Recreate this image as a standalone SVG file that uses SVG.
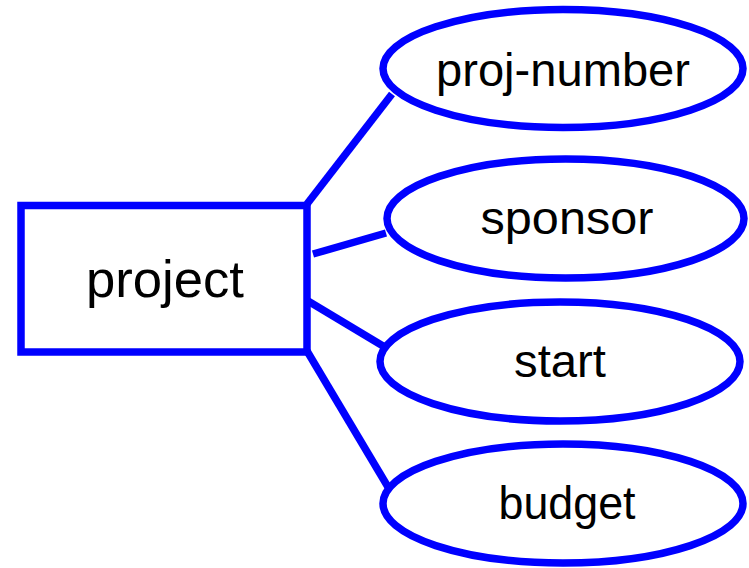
<svg xmlns="http://www.w3.org/2000/svg" width="749" height="568" viewBox="0 0 749 568">
  <style>
    .shape { fill: #ffffff; stroke: #0000ff; stroke-width: 7.5; }
    .link { stroke: #0000ff; stroke-width: 7.5; fill: none; }
    .label { font-family: "Liberation Sans", Arial, sans-serif; fill: #000000; text-anchor: middle; }
  </style>
  <rect width="749" height="568" fill="#ffffff"/>

  <!-- connectors from the entity to its attributes -->
  <g id="connectors">
    <line class="link" x1="307" y1="204" x2="392" y2="94"/>
    <line class="link" x1="313" y1="254" x2="386" y2="233"/>
    <line class="link" x1="308" y1="301" x2="388" y2="349"/>
    <line class="link" x1="307" y1="351" x2="388" y2="487"/>
  </g>

  <!-- entity -->
  <g id="project">
    <rect class="shape" x="21" y="205.5" width="286" height="146.5"/>
    <text class="label" x="165" y="297" font-size="52" textLength="158" lengthAdjust="spacingAndGlyphs">project</text>
  </g>

  <!-- attributes -->
  <g id="proj-number">
    <ellipse class="shape" cx="563" cy="68.5" rx="180" ry="59"/>
    <text class="label" x="563" y="86" font-size="47" textLength="254" lengthAdjust="spacingAndGlyphs">proj-number</text>
  </g>
  <g id="sponsor">
    <ellipse class="shape" cx="565.5" cy="218.5" rx="178.5" ry="59.5"/>
    <text class="label" x="567" y="234" font-size="47" textLength="173" lengthAdjust="spacingAndGlyphs">sponsor</text>
  </g>
  <g id="start">
    <ellipse class="shape" cx="560" cy="361.5" rx="180" ry="59.5"/>
    <text class="label" x="560" y="377" font-size="47" textLength="92" lengthAdjust="spacingAndGlyphs">start</text>
  </g>
  <g id="budget">
    <ellipse class="shape" cx="563" cy="503.5" rx="180" ry="59.5"/>
    <text class="label" x="567" y="519" font-size="47" textLength="137" lengthAdjust="spacingAndGlyphs">budget</text>
  </g>
</svg>
